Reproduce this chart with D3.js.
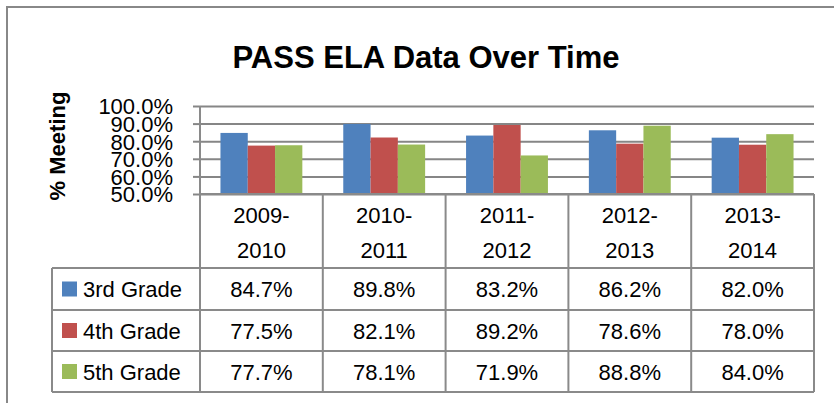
<!DOCTYPE html>
<html>
<head>
<meta charset="utf-8">
<script src="https://cdn.jsdelivr.net/npm/d3@7"></script>
<style>
  body { margin: 0; background: #fff; }
  svg { display: block; font-family: "Liberation Sans", Arial, sans-serif; }
  .grid line { stroke: #868686; stroke-width: 2; }
  .grid path { display: none; }
  .yaxis path { display: none; }
  .yaxis line { stroke: #868686; stroke-width: 2; }
  .yaxis text { font-size: 22px; fill: #000; }
  .tbl { stroke: #8a8a8a; stroke-width: 2; }
</style>
</head>
<body>
<svg id="svg1" width="834" height="403"></svg>
<script>
// data
var categories = ['2009-2010', '2010-2011', '2011-2012', '2012-2013', '2013-2014'];
var seriesNames = ['3rd Grade', '4th Grade', '5th Grade'];
var grade3 = [0.847, 0.898, 0.832, 0.862, 0.820];
var grade4 = [0.775, 0.821, 0.892, 0.786, 0.780];
var grade5 = [0.777, 0.781, 0.719, 0.888, 0.840];
var yTicks = [0.5, 0.6, 0.7, 0.8, 0.9, 1.0];
var colors = ['#4F81BD', '#C0504D', '#9BBB59'];

var seriesValues = [grade3, grade4, grade5];

var svg = d3.select('svg');

var plotLeft = 200, plotRight = 814, plotTop = 106, plotBottom = 194;
var legendLeft = 52;
var rowLines = [268, 310, 351, 392];   // table row boundaries

var fmt = d3.format('.1%');

// outer chart frame (runs off the right and bottom of the picture)
svg.append('rect')
    .attr('x', 7).attr('y', 7)
    .attr('width', 900).attr('height', 500)
    .attr('fill', 'none')
    .attr('stroke', '#888')
    .attr('stroke-width', 2);

svg.append('text')
    .attr('x', 426)
    .attr('y', 68)
    .attr('text-anchor', 'middle')
    .attr('font-size', 31)
    .attr('font-weight', 'bold')
    .text('PASS ELA Data Over Time');

var x = d3.scaleBand()
    .domain(categories)
    .range([plotLeft, plotRight])
    .padding(0);

// excel style: gap width 150% of a bar
var barW = x.bandwidth() / 4.5;
var xInner = d3.scaleBand()
    .domain(seriesNames)
    .range([barW * 0.75, x.bandwidth() - barW * 0.75])
    .padding(0);

var y = d3.scaleLinear()
    .domain([0.5, 1.0])
    .range([plotBottom, plotTop]);

// gridlines
svg.append('g')
    .attr('class', 'grid')
    .attr('transform', 'translate(' + plotLeft + ',0)')
    .call(d3.axisLeft(y).tickValues(yTicks).tickSize(-(plotRight - plotLeft)).tickFormat(''));

// y labels
svg.append('g')
    .attr('class', 'yaxis')
    .attr('transform', 'translate(' + plotLeft + ',0)')
    .call(d3.axisLeft(y).tickValues(yTicks).tickSize(7).tickPadding(20).tickFormat(fmt))
    .selectAll('text')
    .attr('dy', '0.36em');

svg.append('text')
    .attr('transform', 'translate(65,146) rotate(-90)')
    .attr('text-anchor', 'middle')
    .attr('font-size', 22)
    .attr('font-weight', 'bold')
    .text('% Meeting');

// bars
var groups = svg.selectAll('.cat')
    .data(categories)
    .enter()
    .append('g')
    .attr('class', 'cat')
    .attr('transform', function(d) { return 'translate(' + x(d) + ',0)'; });

groups.selectAll('rect')
    .data(function(d, i) {
        return seriesNames.map(function(s, j) { return {s: s, v: seriesValues[j][i], j: j}; });
    })
    .enter()
    .append('rect')
    .attr('x', function(d) { return xInner(d.s); })
    .attr('y', function(d) { return y(d.v); })
    .attr('width', xInner.bandwidth())
    .attr('height', function(d) { return plotBottom - y(d.v); })
    .attr('fill', function(d) { return colors[d.j]; });

// data table lines
svg.append('line').attr('class', 'tbl')
    .attr('x1', plotLeft).attr('x2', plotRight)
    .attr('y1', plotBottom).attr('y2', plotBottom);
svg.append('line').attr('class', 'tbl')
    .attr('x1', plotLeft).attr('x2', plotLeft)
    .attr('y1', plotTop).attr('y2', plotBottom);

svg.selectAll('.hline')
    .data(rowLines)
    .enter()
    .append('line')
    .attr('class', 'tbl')
    .attr('x1', legendLeft).attr('x2', plotRight)
    .attr('y1', function(d) { return d; })
    .attr('y2', function(d) { return d; });

svg.selectAll('.vline')
    .data(categories.concat(['end']))
    .enter()
    .append('line')
    .attr('class', 'tbl')
    .attr('x1', function(d, i) { return plotLeft + i * x.bandwidth(); })
    .attr('x2', function(d, i) { return plotLeft + i * x.bandwidth(); })
    .attr('y1', plotBottom)
    .attr('y2', rowLines[rowLines.length - 1]);

svg.append('line').attr('class', 'tbl')
    .attr('x1', legendLeft).attr('x2', legendLeft)
    .attr('y1', rowLines[0]).attr('y2', rowLines[rowLines.length - 1]);

// category labels, split on the dash into two lines
groups.each(function(d) {
    var parts = d.split('-');
    var t = d3.select(this).append('text')
        .attr('text-anchor', 'middle')
        .attr('font-size', 22);
    t.append('tspan').attr('x', x.bandwidth() / 2).attr('y', 223).text(parts[0] + '-');
    t.append('tspan').attr('x', x.bandwidth() / 2).attr('y', 258).text(parts[1]);
});

// table rows
seriesNames.forEach(function(name, j) {
    var top = rowLines[j], bot = rowLines[j + 1];
    var mid = (top + bot) / 2;
    svg.append('rect')
        .attr('x', 62).attr('y', mid - 7.5)
        .attr('width', 15).attr('height', 15)
        .attr('fill', colors[j]);
    svg.append('text')
        .attr('x', 83).attr('y', mid + 8)
        .attr('font-size', 22)
        .text(name);
    svg.selectAll('.val' + j)
        .data(seriesValues[j])
        .enter()
        .append('text')
        .attr('x', function(d, i) { return x(categories[i]) + x.bandwidth() / 2; })
        .attr('y', mid + 8)
        .attr('text-anchor', 'middle')
        .attr('font-size', 22)
        .text(function(d) { return fmt(d); });
});
</script>
</body>
</html>
